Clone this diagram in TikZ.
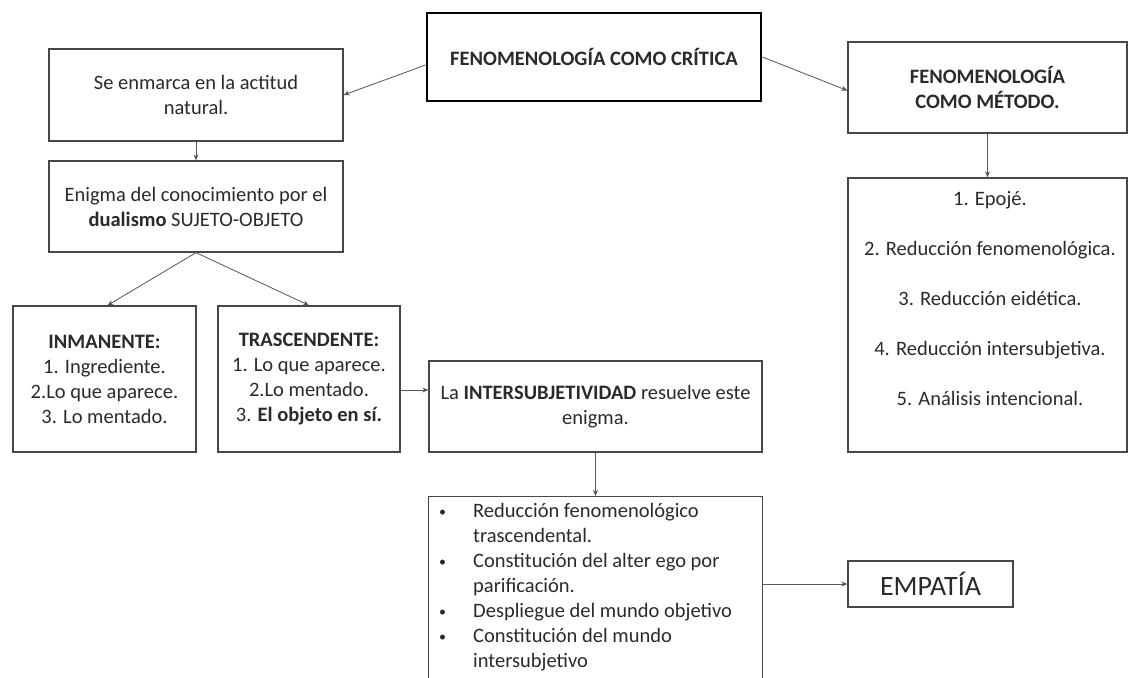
\documentclass[tikz,border=0pt]{standalone}
\usepackage{fontspec}
\setmainfont{Carlito}
\usetikzlibrary{arrows.meta,calc}
\definecolor{ink}{HTML}{2A2A2A}
\definecolor{edge}{HTML}{474747}
\definecolor{arrc}{HTML}{555555}
\tikzset{
  box/.style={draw=edge, line width=1.3pt, rectangle, inner sep=0pt, align=center,
    text=ink, font=\fontsize{20.5}{25}\selectfont},
  plain/.style={inner sep=0pt, align=center, text=ink, font=\fontsize{20.5}{25}\selectfont},
  arr/.style={draw=arrc, line width=0.8pt, -{Stealth[length=6pt,width=5pt]}},
}
\newcommand{\smallbul}{\raisebox{1.5pt}{\fontsize{14}{14}\selectfont •}}
\begin{document}
\begin{tikzpicture}[x=1pt,y=-1pt]
\clip (0,0) rectangle (1129,677);
\useasboundingbox (0,0) rectangle (1129,677);

% top row
\node[box, draw=black, line width=2.8pt, minimum width=334pt, minimum height=88pt] (critica) at (594,57)
  {\textbf{FENOMENOLOGÍA COMO CRÍTICA}};
\node[box, minimum width=294pt, minimum height=92pt] (enmarca) at (196,95)
  {Se enmarca en la actitud\\natural.};
\node[box, minimum width=279pt, minimum height=91pt] (metodo) at (987.5,87.5)
  {\textbf{FENOMENOLOGÍA}\\\textbf{COMO MÉTODO.}};

% left column
\node[box, minimum width=294pt, minimum height=91pt] (enigma) at (196,206.5)
  {Enigma del conocimiento por el\\\textbf{dualismo} SUJETO-OBJETO};
\node[box, minimum width=183pt, minimum height=146pt] (inman) at (104.5,379)
  {\textbf{INMANENTE:}\\1. Ingrediente.\\2.Lo que aparece.\\3. Lo mentado.};
\node[box, minimum width=182pt, minimum height=146pt] (trasc) at (309,379)
  {\textbf{TRASCENDENTE:}\\1. Lo que aparece.\\2.Lo mentado.\\3. \textbf{El objeto en sí.}};

% middle
\node[box, minimum width=333pt, minimum height=91pt] (inter) at (595.5,406.5)
  {La \textbf{INTERSUBJETIVIDAD} resuelve este\\enigma.};
\node[box, anchor=north west, minimum width=334pt, minimum height=200pt] (bullets) at (428,496) {};
\node[plain, anchor=north west, align=left] (bullettext) at (439,500)
  {\begin{tabular}{@{}p{34pt}@{}l@{}}
   \smallbul & Reducción fenomenológico\\
     & trascendental.\\
   \smallbul & Constitución del alter ego por\\
     & parificación.\\
   \smallbul & Despliegue del mundo objetivo\\
   \smallbul & Constitución del mundo\\
     & intersubjetivo
   \end{tabular}};

% right column
\node[box, minimum width=279pt, minimum height=274pt] (list) at (987.5,315) {};
\node[plain, font=\fontsize{20.5}{50}\selectfont] (listtext) at (990,299)
  {1. Epojé.\\2. Reducción fenomenológica.\\3. Reducción eidética.\\4. Reducción intersubjetiva.\\5. Análisis intencional.};
\node[box, font=\fontsize{28}{32}\selectfont, minimum width=165pt, minimum height=46pt] (empatia) at (930.5,584)
  {EMPATÍA};

% connectors
\draw[arr] ([yshift=-8pt]critica.west) -- (enmarca.east);
\draw[arr] (critica.east) -- ([yshift=-3pt]metodo.west);
\draw[arr] (enmarca.south) -- (enigma.north);
\draw[arr] (enigma.south) -- ([xshift=3pt]inman.north);
\draw[arr] (enigma.south) -- (trasc.north);
\draw[arr] ([yshift=-11pt]trasc.east) -- ([yshift=-11pt]trasc.east -| inter.west);
\draw[arr] (metodo.south) -- (list.north);
\draw[arr] (inter.south) -- (inter.south |- bullets.north);
\draw[arr] (empatia.west -| bullets.east) -- (empatia.west);
\end{tikzpicture}
\end{document}
